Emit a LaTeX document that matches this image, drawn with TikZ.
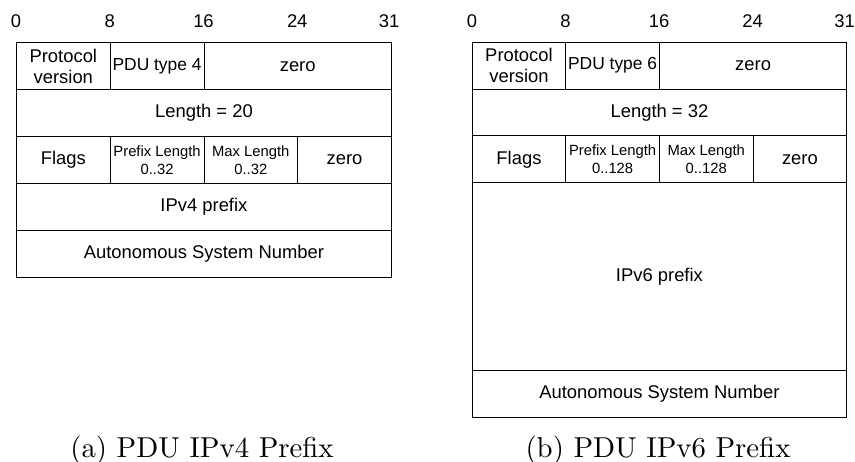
\documentclass[tikz,border=0pt]{standalone}
\usepackage{fontspec}
\newfontfamily\fieldfont{Liberation Sans}
\newfontfamily\capfont{lmroman10-regular.otf}
\tikzset{
  cell/.style={draw=black, line width=0.9pt, rectangle, inner sep=0pt,
    anchor=north west, align=center, font=\fieldfont\fontsize{18.4}{21.5}\selectfont},
  smallcell/.style={cell, font=\fieldfont\fontsize{14.8}{18.3}\selectfont},
  bitnum/.style={anchor=base, inner sep=0pt, font=\fieldfont\fontsize{18.4}{21.5}\selectfont},
  caption/.style={anchor=base, inner sep=0pt, font=\capfont\fontsize{28.8}{34}\selectfont}
}
\begin{document}
\begin{tikzpicture}[x=1pt, y=-1pt]
\useasboundingbox (0,0) rectangle (855,462);

% ---------- (a) IPv4 prefix PDU ----------
\node[bitnum] (a0)  at (16,28)     {0};
\node[bitnum] (a8)  at (109.75,28) {8};
\node[bitnum] (a16) at (203.5,28)  {16};
\node[bitnum] (a24) at (297.25,28) {24};
\node[bitnum] (a31) at (389,28)    {31};

\node[cell, minimum width=93.75pt, minimum height=46.9pt] (aver)  at (16,42.3)     {Protocol\\version};
\node[cell, minimum width=93.75pt, minimum height=46.9pt, font=\fieldfont\fontsize{17.4}{21}\selectfont] (atype) at (109.75,42.3) {PDU type 4};
\node[cell, minimum width=187.5pt, minimum height=46.9pt] (azero) at (203.5,42.3)   {zero};

\node[cell, minimum width=375pt, minimum height=46.9pt] (alen) at (16,89.2) {Length = 20};

\node[cell, minimum width=93.75pt, minimum height=46.9pt] (aflags) at (16,136.1)     {Flags};
\node[smallcell, minimum width=93.75pt, minimum height=46.9pt] (aplen) at (109.75,136.1) {Prefix Length\\0..32};
\node[smallcell, minimum width=93.75pt, minimum height=46.9pt] (amlen) at (203.5,136.1)  {Max Length\\0..32};
\node[cell, minimum width=93.75pt, minimum height=46.9pt] (azero2) at (297.25,136.1) {zero};

\node[cell, minimum width=375pt, minimum height=46.9pt] (apfx) at (16,183.0) {IPv4 prefix};
\node[cell, minimum width=375pt, minimum height=46.9pt] (aasn) at (16,229.9) {Autonomous System Number};

\node[caption] (capa) at (202,457) {(a) PDU IPv4 Prefix};

% ---------- (b) IPv6 prefix PDU ----------
\node[bitnum] (b0)  at (472,28)    {0};
\node[bitnum] (b8)  at (565.4,28)  {8};
\node[bitnum] (b16) at (659,28)    {16};
\node[bitnum] (b24) at (752.7,28)  {24};
\node[bitnum] (b31) at (844.5,28)  {31};

\node[cell, minimum width=93.65pt, minimum height=46.9pt] (bver)  at (471.7,41.7)  {Protocol\\version};
\node[cell, minimum width=93.65pt, minimum height=46.9pt, font=\fieldfont\fontsize{17.4}{21}\selectfont] (btype) at (565.35,41.7) {PDU type 6};
\node[cell, minimum width=187.3pt, minimum height=46.9pt] (bzero) at (659,41.7)    {zero};

\node[cell, minimum width=374.6pt, minimum height=46.9pt] (blen) at (471.7,88.6) {Length = 32};

\node[cell, minimum width=93.65pt, minimum height=46.9pt] (bflags) at (471.7,135.5)   {Flags};
\node[smallcell, minimum width=93.65pt, minimum height=46.9pt] (bplen) at (565.35,135.5) {Prefix Length\\0..128};
\node[smallcell, minimum width=93.65pt, minimum height=46.9pt] (bmlen) at (659,135.5)   {Max Length\\0..128};
\node[cell, minimum width=93.65pt, minimum height=46.9pt] (bzero2) at (752.65,135.5) {zero};

\node[cell, minimum width=374.6pt, minimum height=187.6pt] (bpfx) at (471.7,182.4) {IPv6 prefix};
\node[cell, minimum width=374.6pt, minimum height=46.9pt] (basn) at (471.7,370.0) {Autonomous System Number};

\node[caption] (capb) at (658,457) {(b) PDU IPv6 Prefix};
\end{tikzpicture}
\end{document}
